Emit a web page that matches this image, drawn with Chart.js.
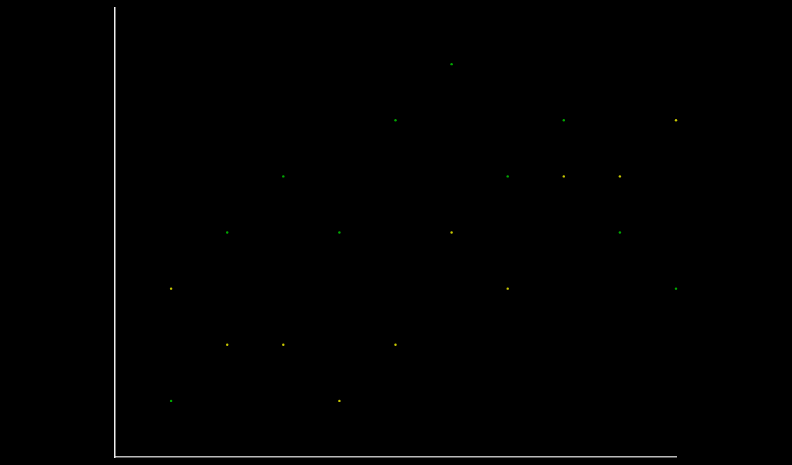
<!DOCTYPE html>
<html>
<head>
<meta charset="utf-8">
<script src="https://cdn.jsdelivr.net/npm/chart.js@4"></script>
<style>
  html, body { margin: 0; padding: 0; background: #000; }
  #wrap { width: 792px; height: 465px; }
</style>
</head>
<body>
<div id="wrap"><canvas id="chart"></canvas></div>
<script>
const xValues = [1, 2, 3, 4, 5, 6, 7, 8, 9, 10];
const greenValues = [1, 4, 5, 4, 6, 7, 5, 6, 4, 3];
const yellowValues = [3, 2, 2, 1, 2, 4, 3, 5, 5, 6];

const toPoints = vals => xValues.map((x, i) => ({ x: x, y: vals[i] }));

new Chart(document.getElementById("chart"), {
  type: "scatter",
  data: {
    datasets: [{
      label: "green",
      data: toPoints(greenValues),
      backgroundColor: "#00a800",
      borderColor: "#00a800",
      pointRadius: 1.2,
      borderWidth: 0,
      clip: false
    }, {
      label: "yellow",
      data: toPoints(yellowValues),
      backgroundColor: "#c8c800",
      borderColor: "#c8c800",
      pointRadius: 1.2,
      borderWidth: 0,
      clip: false
    }]
  },
  options: {
    responsive: true,
    maintainAspectRatio: false,
    animation: false,
    layout: { padding: { left: 107, right: 116, top: 8, bottom: 0 } },
    plugins: { legend: { display: false }, tooltip: { enabled: false } },
    scales: {
      x: {
        min: 0, max: 10,
        ticks: { display: false },
        grid: { display: false },
        border: { color: "#bbbbbb", width: 1.5 }
      },
      y: {
        min: 0, max: 8,
        ticks: { display: false },
        grid: { display: false },
        border: { color: "#eeeeee", width: 1.5 }
      }
    }
  }
});
</script>
</body>
</html>
